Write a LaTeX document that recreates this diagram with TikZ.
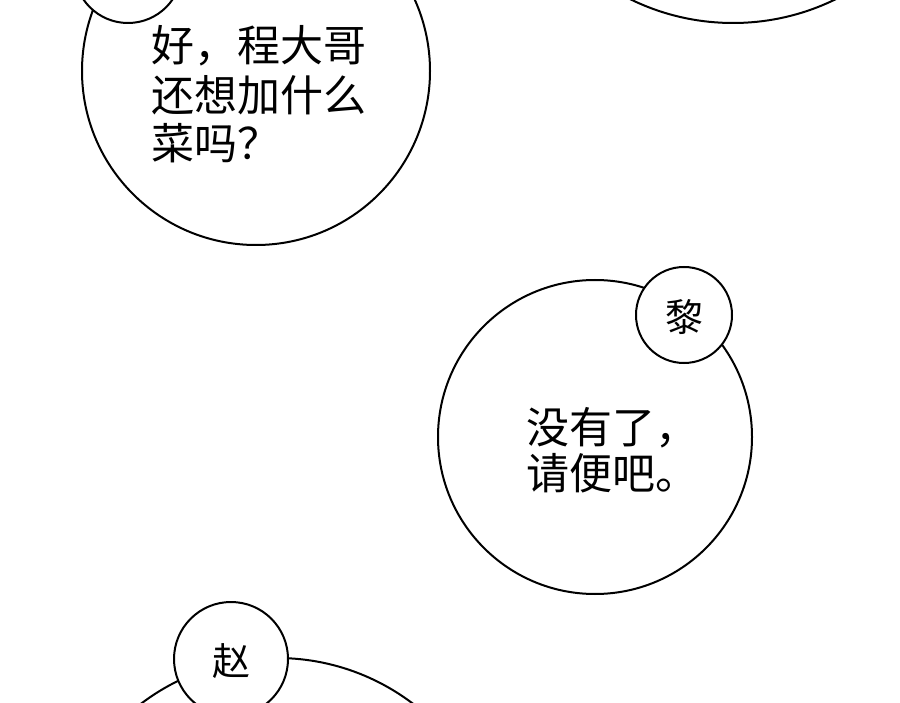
\documentclass[tikz,border=0pt]{standalone}
\usepackage{fontspec}
\newfontfamily\cjk{Noto Sans CJK SC}
\begin{document}
\begin{tikzpicture}[x=1pt,y=-1pt,
  bub/.style={draw=black,line width=2pt,fill=white},
  txt/.style={font=\cjk\fontsize{43}{48}\selectfont,anchor=west,inner sep=0pt,align=left},
  lab/.style={font=\cjk\fontsize{38}{40}\selectfont,inner sep=0pt}]
\useasboundingbox (0,0) rectangle (900,703);
\clip (0,0) rectangle (900,703);
\draw[bub] (256,71) circle[radius=174];
\draw[bub] (128,-31) circle[radius=54];
\draw[bub] (733,-210) circle[radius=233];
\draw[bub] (595,437) circle[radius=157];
\draw[bub] (684,315) circle[radius=48];
\draw[bub] (277,883) circle[radius=225];
\draw[bub] (231,659) circle[radius=57];
\node[txt] (t1) at (151,46) {好，程大哥};
\node[txt] (t2) at (151,95) {还想加什么};
\node[txt] (t3) at (151,143) {菜吗？};
\node[txt] (t4) at (526,428) {没有了，};
\node[txt] (t5) at (526,473) {请便吧。};
\node[lab] (l) at (684,317) {黎};
\node[lab] (z) at (231,661) {赵};
\end{tikzpicture}
\end{document}
